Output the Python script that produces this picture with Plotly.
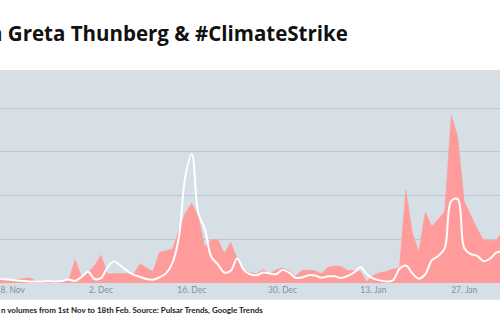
import plotly.graph_objects as go
import pandas as pd

# Daily values from 16 Nov 2018 (visible window of the chart)
start_date = "2018-11-16"
pulsar_volume = [
    2.5, 2, 1.8, 2, 2.5, 3, 1, 1, 1, 1, 1.2, 1.5, 13.3, 3.8, 6, 10, 16, 5.3,
    5.5, 5.5, 5.4, 4.7, 11, 9, 6.6, 17.5, 18.5, 19.5, 30, 40, 45.7, 38, 20.6,
    24.7, 25, 17, 23.2, 14, 7.5, 6, 5.3, 7.6, 5.3, 7.5, 8.6, 7.2, 3.8, 7.4,
    7.4, 7, 5.3, 9, 9.7, 9.5, 7.2, 7.2, 6.6, 0.9, 4.5, 5.9, 6.6, 8, 8.6, 53.3,
    28.6, 18, 40.5, 32.3, 36.5, 41, 96, 83.7, 46.6, 39, 31, 24.5, 24.3, 24.7,
    30.4, 33,
]
google_trends = [
    2.6, 2.2, 1.8, 1.4, 1.1, 0.9, 0.9, 0.9, 1.0, 0.9, 1.2, 2.0, 1.2, 3.5, 6.5,
    2.3, 2.8, 9, 12.3, 10, 7, 4.8, 3.5, 2.3, 1.9, 3.2, 5.5, 11.4, 26, 61, 74,
    40, 31, 15, 10.8, 6, 7, 14, 7.5, 5, 4.5, 6, 5.5, 5, 7.5, 6, 3, 3.2, 4.5,
    4.3, 3, 3.8, 3.8, 2.9, 4, 6, 9, 5, 2.5, 1.5, 0.9, 1.5, 8, 10, 5.5, 2.5, 5,
    13, 15.5, 20, 47, 48, 20, 16.5, 15.5, 12.5, 14, 17.5, 18, 18,
]
dates = pd.date_range(start_date, periods=len(pulsar_volume), freq="D")

tick_dates = ["2018-11-18", "2018-12-02", "2018-12-16", "2018-12-30", "2019-01-13", "2019-01-27"]
tick_labels = ["18. Nov", "2. Dec", "16. Dec", "30. Dec", "13. Jan", "27. Jan"]

title_text = "n Greta Thunberg &amp; #ClimateStrike"
caption_text = "n volumes from 1st Nov to 18th Feb. Source: Pulsar Trends, Google Trends"

BG = "#d5dfe5"
GRID = "#bcc7cf"
RED = "#ff9b9b"

fig = go.Figure()
fig.add_trace(go.Scatter(
    x=dates, y=pulsar_volume, mode="lines", fill="tozeroy",
    line=dict(color=RED, width=0.5), fillcolor=RED, hoverinfo="skip",
))
fig.add_trace(go.Scatter(
    x=dates, y=google_trends, mode="lines",
    line=dict(color="white", width=2, shape="spline"), hoverinfo="skip",
))

fig.add_shape(type="rect", xref="paper", yref="paper", x0=0, x1=1,
              y0=-0.0783, y1=1, fillcolor=BG, line_width=0, layer="below")

fig.update_layout(
    width=500, height=330,
    margin=dict(l=0, r=0, t=70, b=46.7, pad=0, autoexpand=False),
    paper_bgcolor="white", plot_bgcolor=BG,
    showlegend=False,
    font=dict(family="Lato", color="#222"),
    xaxis=dict(
        type="date",
        range=["2018-11-16 10:15", "2019-02-01 12:23"],
        tickmode="array", tickvals=tick_dates, ticktext=tick_labels,
        showgrid=False, zeroline=False, showline=False, ticks="",
        ticklabeloverflow="allow", automargin=False,
        tickfont=dict(family="Lato", size=8.5, color="#8a8f94"),
    ),
    yaxis=dict(
        range=[0, 121.9], dtick=25, tick0=0,
        showgrid=True, gridcolor=GRID, gridwidth=1, automargin=False,
        zeroline=False, showticklabels=False, ticks="",
    ),
    annotations=[
        dict(text="<b>" + title_text + "</b>", xref="paper", yref="paper",
             x=-13 / 500, y=1 + 37 / 213.3, xanchor="left", yanchor="middle",
             showarrow=False, font=dict(family="Open Sans", size=20.5, color="#111")),
        dict(text="<b>" + caption_text + "</b>", xref="paper", yref="paper",
             x=-1 / 500, y=-(310.5 - 283.3) / 213.3, xanchor="left", yanchor="middle",
             showarrow=False, font=dict(family="Lato", size=8, color="#222")),
    ],
)

fig.write_html("out.html")
